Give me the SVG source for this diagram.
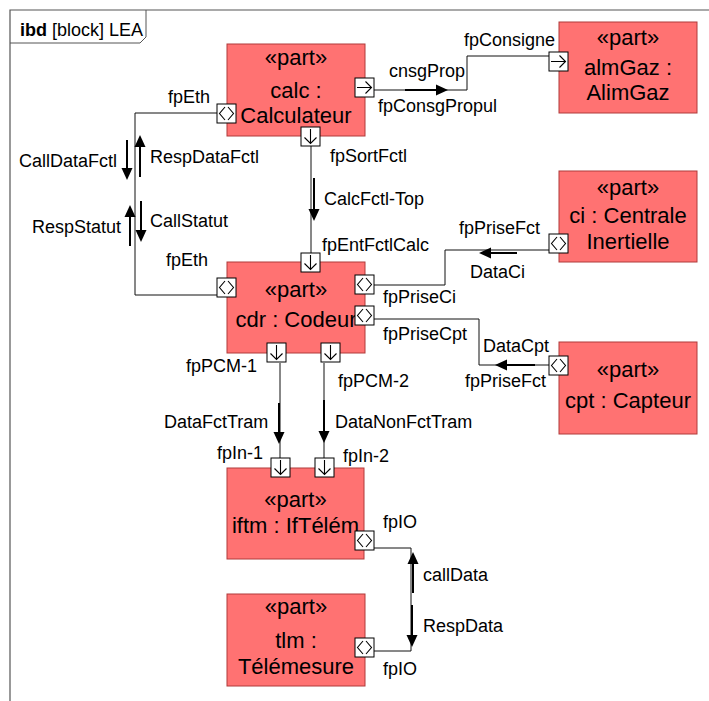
<svg xmlns="http://www.w3.org/2000/svg" xmlns:xlink="http://www.w3.org/1999/xlink" width="709" height="701" viewBox="0 0 709 701">
<style>
.blk{fill:#FF7272;stroke:#B03A3A;stroke-width:1}
.bt{font-family:"Liberation Sans",Arial,sans-serif;font-size:22px;fill:#000;text-anchor:middle}
.lb{font-family:"Liberation Sans",Arial,sans-serif;font-size:18px;fill:#000}
.cn{fill:none;stroke:#111;stroke-width:1}
.fl{fill:none;stroke:#000;stroke-width:2}
.hd{fill:#000;stroke:none}
.pt{fill:#fff;stroke:#000;stroke-width:1}
.gl{fill:none;stroke:#000;stroke-width:1.1}
</style>
<defs>
<g id="pBi"><rect class="pt" x="0" y="0" width="19" height="19"/><path class="gl" d="M8,3 L2.5,9.5 L8,16 M11,3 L16.5,9.5 L11,16"/></g>
<g id="pR"><rect class="pt" x="0" y="0" width="19" height="19"/><path class="gl" d="M2,9.5 H16.5 M10.5,3.5 L16.5,9.5 L10.5,15.5"/></g>
<g id="pD"><rect class="pt" x="0" y="0" width="19" height="19"/><path class="gl" d="M9.5,2 V16.5 M3.5,10.5 L9.5,16.5 L15.5,10.5"/></g>
</defs>
<rect x="0" y="0" width="709" height="701" fill="#fff"/>
<g id="frame">
<path d="M10,701 V10 H709" fill="none" stroke="#555" stroke-width="1.2"/>
<path d="M10,43 H140 L146,37 V10" fill="none" stroke="#555" stroke-width="1"/>
<text x="20" y="36" class="lb"><tspan font-weight="bold">ibd</tspan> [block] LEA</text>
</g>
<g id="connectors">
<path class="cn" d="M374,90 H467 V56 H549"/>
<path class="fl" d="M405,90 H437"/><polygon class="hd" points="448,90 436,84.5 436,95.5"/>
<path class="cn" d="M217,113 H135 V295 H217"/>
<path class="fl" d="M127,140 V169"/><polygon class="hd" points="127,180 121.5,168 132.5,168"/>
<path class="fl" d="M140,177 V146"/><polygon class="hd" points="140,135 134.5,147 145.5,147"/>
<path class="fl" d="M130,246 V216"/><polygon class="hd" points="130,205 124.5,217 135.5,217"/>
<path class="fl" d="M141,201 V231"/><polygon class="hd" points="141,242 135.5,230 146.5,230"/>
<path class="cn" d="M311,146 V253"/>
<path class="fl" d="M314,178 V210"/><polygon class="hd" points="314,221 308.5,209 319.5,209"/>
<path class="cn" d="M549,250 H445 V285 H374"/>
<path class="fl" d="M517,253 H490"/><polygon class="hd" points="479,253 491,247.5 491,258.5"/>
<path class="cn" d="M549,365 H479 V319 H374"/>
<path class="fl" d="M535,365 H506"/><polygon class="hd" points="495,365 507,359.5 507,370.5"/>
<path class="cn" d="M280,363 V458"/>
<path class="fl" d="M279,403 V433"/><polygon class="hd" points="279,444 273.5,432 284.5,432"/>
<path class="cn" d="M324,363 V458"/>
<path class="fl" d="M324,400 V432"/><polygon class="hd" points="324,443 318.5,431 329.5,431"/>
<path class="cn" d="M374,548 H411 V651 H374"/>
<path class="fl" d="M413,593 V563"/><polygon class="hd" points="413,552 407.5,564 418.5,564"/>
<path class="fl" d="M412,605 V636"/><polygon class="hd" points="412,647 406.5,635 417.5,635"/>
</g>
<g id="labels">
<text class="lb" x="389" y="77">cnsgProp</text>
<text class="lb" x="378" y="112">fpConsgPropul</text>
<text class="lb" x="464" y="46">fpConsigne</text>
<text class="lb" x="168" y="103">fpEth</text>
<text class="lb" x="117" y="167" text-anchor="end">CallDataFctl</text>
<text class="lb" x="150" y="163">RespDataFctl</text>
<text class="lb" x="32" y="233">RespStatut</text>
<text class="lb" x="150" y="227">CallStatut</text>
<text class="lb" x="166" y="266">fpEth</text>
<text class="lb" x="330" y="162">fpSortFctl</text>
<text class="lb" x="324" y="205">CalcFctl-Top</text>
<text class="lb" x="322" y="251">fpEntFctlCalc</text>
<text class="lb" x="459" y="234">fpPriseFct</text>
<text class="lb" x="470" y="278">DataCi</text>
<text class="lb" x="383" y="303">fpPriseCi</text>
<text class="lb" x="383" y="340">fpPriseCpt</text>
<text class="lb" x="483" y="352">DataCpt</text>
<text class="lb" x="465" y="387">fpPriseFct</text>
<text class="lb" x="186" y="372">fpPCM-1</text>
<text class="lb" x="338" y="387">fpPCM-2</text>
<text class="lb" x="164" y="428">DataFctTram</text>
<text class="lb" x="335" y="428">DataNonFctTram</text>
<text class="lb" x="217" y="459">fpIn-1</text>
<text class="lb" x="343" y="462">fpIn-2</text>
<text class="lb" x="383" y="528">fpIO</text>
<text class="lb" x="423" y="581">callData</text>
<text class="lb" x="423" y="632">RespData</text>
<text class="lb" x="383" y="675">fpIO</text>
</g>
<g id="calc">
<rect class="blk" x="227" y="44" width="138" height="92"/>
<text class="bt" x="296" y="65">«part»</text>
<text class="bt" x="296" y="98">calc :</text>
<text class="bt" x="296" y="123">Calculateur</text>
<use xlink:href="#pBi" x="217" y="104"/>
<use xlink:href="#pR" x="355" y="78"/>
<use xlink:href="#pD" x="301" y="127"/>
</g>
<g id="almGaz">
<rect class="blk" x="559" y="22" width="138" height="91"/>
<text class="bt" x="628" y="45">«part»</text>
<text class="bt" x="628" y="75">almGaz :</text>
<text class="bt" x="628" y="100">AlimGaz</text>
<use xlink:href="#pR" x="549" y="52"/>
</g>
<g id="ci">
<rect class="blk" x="559" y="171" width="138" height="91"/>
<text class="bt" x="628" y="195">«part»</text>
<text class="bt" x="628" y="223">ci : Centrale</text>
<text class="bt" x="628" y="249">Inertielle</text>
<use xlink:href="#pBi" x="549" y="234"/>
</g>
<g id="cdr">
<rect class="blk" x="227" y="262" width="138" height="91"/>
<text class="bt" x="296" y="297">«part»</text>
<text class="bt" x="296" y="327">cdr : Codeur</text>
<use xlink:href="#pD" x="301" y="253"/>
<use xlink:href="#pBi" x="217" y="278"/>
<use xlink:href="#pBi" x="355" y="275"/>
<use xlink:href="#pBi" x="355" y="306"/>
<use xlink:href="#pD" x="267" y="343"/>
<use xlink:href="#pD" x="321" y="343"/>
</g>
<g id="cpt">
<rect class="blk" x="559" y="342" width="138" height="92"/>
<text class="bt" x="628" y="377">«part»</text>
<text class="bt" x="628" y="408">cpt : Capteur</text>
<use xlink:href="#pBi" x="549" y="356"/>
</g>
<g id="iftm">
<rect class="blk" x="227" y="468" width="137" height="91"/>
<text class="bt" x="295.5" y="507">«part»</text>
<text class="bt" x="295.5" y="533">iftm : IfTélém</text>
<use xlink:href="#pD" x="271" y="458"/>
<use xlink:href="#pD" x="315" y="458"/>
<use xlink:href="#pBi" x="355" y="531"/>
</g>
<g id="tlm">
<rect class="blk" x="227" y="594" width="138" height="92"/>
<text class="bt" x="296" y="614">«part»</text>
<text class="bt" x="296" y="648">tlm :</text>
<text class="bt" x="296" y="674">Télémesure</text>
<use xlink:href="#pBi" x="355" y="638"/>
</g>
</svg>
